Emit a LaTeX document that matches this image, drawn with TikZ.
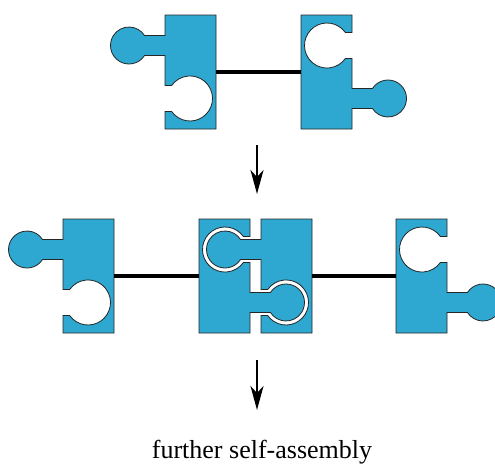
\documentclass[tikz,border=0pt]{standalone}
\usepackage{fontspec}
\newfontfamily\captionfont{Liberation Serif}
\usetikzlibrary{arrows.meta}

\definecolor{puzzle}{RGB}{46,168,208}

\begin{document}
\begin{tikzpicture}[
  x=1pt, y=1pt,
  unitfill/.style = {fill=puzzle, draw=black!85, line width=0.8pt},
  link/.style = {line width=3.2pt},
  arr/.style = {-{Stealth[length=24pt, width=13pt, inset=7pt]}, line width=2.4pt},
  % one puzzle unit: body, knob on the upper left, socket on the lower left
  pics/unit/.style = {code={
    \path[unitfill, rotate around={#1:(25.5,-57)}]
      (0,0) -- (51,0) -- (51,-114) -- (0,-114) -- (0,-96.5)
      -- (6.64,-96.5) arc[start angle=215.3, end angle=504.7, radius=22.5]
      -- (0,-70.5) -- (0,-40.5)
      -- (-20.44,-40.5) arc[start angle=-32.7, end angle=-327.3, radius=18.5]
      -- (0,-20.5) -- cycle;
    \coordinate (-west) at (0,-57);
    \coordinate (-east) at (51,-57);
  }}
]
\useasboundingbox (0,0) rectangle (495,-463);

% Top row: a pair of units
\pic (a1) at (165,-15)  {unit=0};
\pic (b1) at (301,-15)  {unit=180};
\draw[link] (a1-east) -- (b1-west);

\coordinate (s1) at (257,-145);
\coordinate (t1) at (257,-194);
\draw[arr] (s1) -- (t1);

% Middle row: the pair locked into its neighbours
\pic (a2) at (63,-219)  {unit=0};
\pic (b2) at (199,-219) {unit=180};
\pic (a3) at (261,-219) {unit=0};
\pic (b3) at (396,-219) {unit=180};
\draw[link] (a2-east) -- (b2-west);
\draw[link] (a3-east) -- (b3-west);

\coordinate (s2) at (257,-360);
\coordinate (t2) at (257,-410);
\draw[arr] (s2) -- (t2);

\node[anchor=base, font=\captionfont\fontsize{26}{30}\selectfont] (more) at (262,-458) {further self-assembly};

\end{tikzpicture}
\end{document}
